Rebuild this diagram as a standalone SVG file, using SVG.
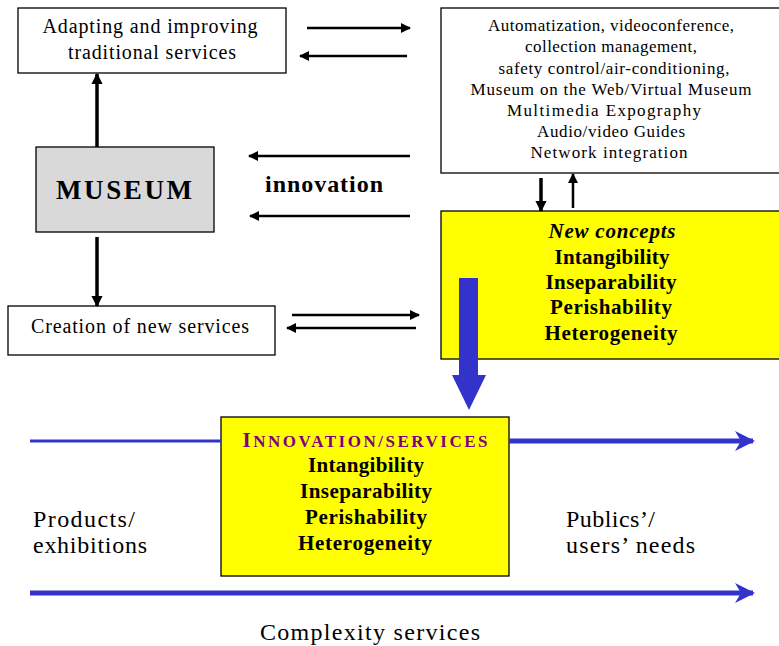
<svg xmlns="http://www.w3.org/2000/svg" width="779" height="646" viewBox="0 0 779 646">
<defs>
<marker id="ah" viewBox="0 0 10 10" refX="9" refY="5" markerWidth="4" markerHeight="4" orient="auto" markerUnits="strokeWidth"><path d="M0,0 L10,5 L0,10 Z" fill="#000"/></marker>
<marker id="ahv" viewBox="0 0 10 10" refX="9" refY="5" markerWidth="3.2" markerHeight="3.2" orient="auto" markerUnits="strokeWidth"><path d="M0,0 L10,5 L0,10 Z" fill="#000"/></marker>
<marker id="bh" viewBox="0 0 10 10" refX="9" refY="5" markerWidth="4" markerHeight="4" orient="auto" markerUnits="strokeWidth"><path d="M0,0 L10,5 L0,10 L3,5 Z" fill="#3333cc"/></marker>
<style>
text{font-family:"Liberation Serif","Times New Roman",serif;fill:#000}
.n{font-size:20px;text-anchor:middle}
.s{font-size:17px;text-anchor:middle}
.b{font-size:21px;font-weight:bold;text-anchor:middle}
.l{font-size:24px}
.box{fill:#fff;stroke:#000;stroke-width:1.3}
.yel{fill:#ffff00;stroke:#000;stroke-width:1.3}
.a{stroke:#000;stroke-width:2.5;fill:none;marker-end:url(#ah)}
.v{stroke:#000;stroke-width:3.5;fill:none;marker-end:url(#ahv)}
</style>
</defs>
<rect width="779" height="646" fill="#fff"/>
<g id="adapting">
<rect class="box" x="18" y="8" width="268" height="65"/>
<text class="n" x="150" y="33" textLength="215" lengthAdjust="spacing">Adapting and improving</text>
<text class="n" x="152" y="59" textLength="168" lengthAdjust="spacing">traditional services</text>
</g>
<g id="technologies">
<rect class="box" x="441" y="8" width="345" height="165"/>
<text class="s" x="611" y="31" textLength="246" lengthAdjust="spacing">Automatization, videoconference,</text>
<text class="s" x="611" y="52" textLength="172" lengthAdjust="spacing">collection management,</text>
<text class="s" x="614" y="74" textLength="231" lengthAdjust="spacing">safety control/air-conditioning,</text>
<text class="s" x="611" y="95" textLength="281" lengthAdjust="spacing">Museum on the Web/Virtual Museum</text>
<text class="s" x="604" y="116" textLength="194" lengthAdjust="spacing">Multimedia Expography</text>
<text class="s" x="611" y="137" textLength="148" lengthAdjust="spacing">Audio/video Guides</text>
<text class="s" x="609" y="158" textLength="157" lengthAdjust="spacing">Network integration</text>
</g>
<g id="museum">
<rect x="36" y="147" width="178" height="85" fill="#d9d9d9" stroke="#000" stroke-width="1.3"/>
<text x="124" y="199" font-size="27" font-weight="bold" text-anchor="middle" textLength="136" lengthAdjust="spacing">MUSEUM</text>
</g>
<g id="creation">
<rect class="box" x="8" y="306" width="267" height="49"/>
<text class="n" x="140" y="333" textLength="218" lengthAdjust="spacing">Creation of new services</text>
</g>
<g id="new-concepts">
<rect class="yel" x="441" y="211" width="345" height="148"/>
<text class="b" x="612" y="238" font-style="italic" textLength="127" lengthAdjust="spacing">New concepts</text>
<text class="b" x="612" y="264" textLength="115" lengthAdjust="spacing">Intangibility</text>
<text class="b" x="611" y="289" textLength="131" lengthAdjust="spacing">Inseparability</text>
<text class="b" x="611" y="314" textLength="122" lengthAdjust="spacing">Perishability</text>
<text class="b" x="611" y="340" textLength="133" lengthAdjust="spacing">Heterogeneity</text>
</g>
<g id="innovation-services">
<rect class="yel" x="221" y="417" width="288" height="159"/>
<text x="365" y="447" text-anchor="middle" font-weight="bold" textLength="245" lengthAdjust="spacing" style="fill:#800080"><tspan font-size="21">I</tspan><tspan font-size="17">NNOVATION/SERVICES</tspan></text>
<text class="b" x="366" y="472" textLength="116" lengthAdjust="spacing">Intangibility</text>
<text class="b" x="366" y="498" textLength="132" lengthAdjust="spacing">Inseparability</text>
<text class="b" x="366" y="524" textLength="122" lengthAdjust="spacing">Perishability</text>
<text class="b" x="365" y="550" textLength="134" lengthAdjust="spacing">Heterogeneity</text>
</g>
<g id="labels">
<text class="l" x="265" y="192" font-weight="bold" textLength="118" lengthAdjust="spacing">innovation</text>
<text class="l" x="33" y="527" textLength="102" lengthAdjust="spacing">Products/</text>
<text class="l" x="33" y="553" textLength="114" lengthAdjust="spacing">exhibitions</text>
<text class="l" x="566" y="527" textLength="89" lengthAdjust="spacing">Publics’/</text>
<text class="l" x="566" y="553" textLength="129" lengthAdjust="spacing">users’ needs</text>
<text class="l" x="260" y="640" textLength="220" lengthAdjust="spacing">Complexity services</text>
</g>
<g id="connectors">
<line class="a" x1="307" y1="28" x2="410" y2="28"/>
<line class="a" x1="407" y1="56" x2="300" y2="56"/>
<line class="v" x1="97" y1="147" x2="97" y2="74"/>
<line class="v" x1="97" y1="237" x2="97" y2="306"/>
<line class="a" x1="410" y1="156" x2="249" y2="156"/>
<line class="a" x1="410" y1="216" x2="250" y2="216"/>
<line class="a" x1="292" y1="315" x2="419" y2="315"/>
<line class="a" x1="416" y1="328" x2="287" y2="328"/>
<line class="v" x1="541" y1="178" x2="541" y2="211"/>
<line x1="573" y1="208" x2="573" y2="174" stroke="#000" stroke-width="2.5" marker-end="url(#ah)"/>
<path d="M459,278 H478 V375 H486 L469,410 L452,375 H459 Z" fill="#3333cc"/>
<line x1="30" y1="441" x2="221" y2="441" stroke="#3333cc" stroke-width="3"/>
<line x1="509" y1="441" x2="753" y2="441" stroke="#3333cc" stroke-width="5" marker-end="url(#bh)"/>
<line x1="30" y1="593" x2="753" y2="593" stroke="#3333cc" stroke-width="5" marker-end="url(#bh)"/>
</g>
</svg>
